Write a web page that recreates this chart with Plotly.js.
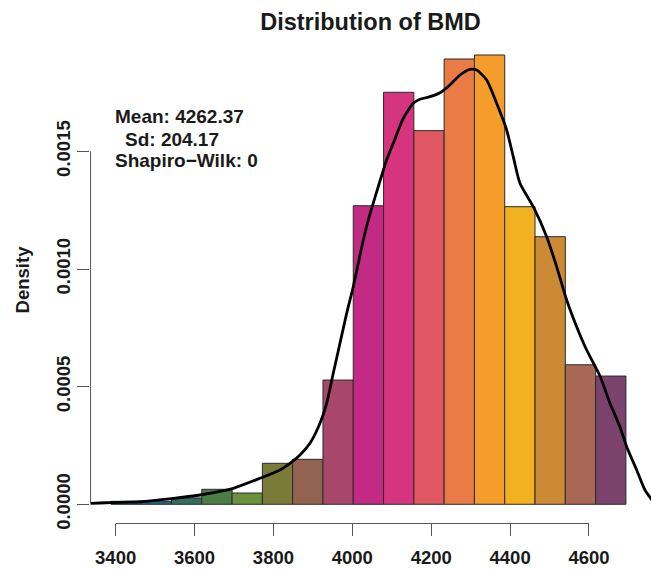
<!DOCTYPE html>
<html>
<head>
<meta charset="utf-8">
<script src="https://cdn.plot.ly/plotly-3.0.1.min.js"></script>
<style>html,body{margin:0;padding:0;background:#fff}#chart{width:651px;height:569px}</style>
</head>
<body>
<div id="chart"></div>
<script>
// Histogram bin edges (BMD) and densities
var binStart = 3388;
var binWidth = 76.8;
var densities = [0.0000127, 0.0000127, 0.000027, 0.0000637, 0.000048, 0.0001742, 0.0001912, 0.000528,
                 0.001269, 0.001751, 0.001588, 0.0018925, 0.0019095, 0.0012648, 0.0011373, 0.000593, 0.000545];
var barColors = ['#22507a', '#27617d', '#326d5f', '#4b7d45', '#6a913e', '#7b7b38', '#936352', '#a9476a',
                 '#c22a84', '#d7347f', '#e15763', '#eb7b46', '#f59d2b', '#f1b120', '#cd8a35', '#a86855', '#7b426d'];

// Kernel density curve
var kdeX = [3336.8, 3360.6, 3388.2, 3461.8, 3542.1, 3613.8, 3698.3, 3765.9, 3816.6, 3841.9, 3867.3, 3892.6,
            3918.0, 3935.0, 3951.7, 3968.7, 3985.7, 4002.4, 4015.1, 4027.8, 4040.4, 4087.1, 4103.8, 4129.2,
            4154.5, 4171.5, 4196.8, 4222.2, 4247.5, 4272.9, 4298.2, 4315.2, 4340.6, 4365.9, 4391.3, 4408.0,
            4425.0, 4458.7, 4492.7, 4518.0, 4543.4, 4568.7, 4594.1, 4627.8, 4653.2, 4678.5, 4695.5, 4720.9,
            4741.9, 4760.0];
var kdeY = [0.0000040, 0.0000055, 0.0000075, 0.0000110, 0.0000240, 0.0000395, 0.000068, 0.0001105, 0.0001458,
            0.0001742, 0.0002095, 0.0002592, 0.0003442, 0.0004292, 0.0005567, 0.0006842, 0.0008117, 0.0009248,
            0.0010242, 0.0011232, 0.0012082, 0.0014633, 0.0015342, 0.0016405, 0.0017042, 0.0017212, 0.0017323,
            0.0017492, 0.001782, 0.0018245, 0.0018487, 0.0018457, 0.0018032, 0.0017042, 0.0015907, 0.0014773,
            0.0013642, 0.0012648, 0.0011373, 0.0010098, 0.0008683, 0.0007548, 0.0006558, 0.0005453, 0.0004292,
            0.0003298, 0.0002448, 0.0001458, 0.0000608, 0.000018];

var xTicks = [3400, 3600, 3800, 4000, 4200, 4400, 4600];
var yTicks = [0, 0.0005, 0.0010, 0.0015];
var yTickText = ['0.0000', '0.0005', '0.0010', '0.0015'];

var statLines = ['Mean: 4262.37', 'Sd: 204.17', 'Shapiro\u2212Wilk: 0'];

var mids = densities.map(function (d, i) { return binStart + binWidth * (i + 0.5); });

var FONT = 'Liberation Sans, Arial, Helvetica, sans-serif';
var TXT = '#1a1a1a';
var AX = '#555555';

var traces = [
  {
    type: 'bar', x: mids, y: densities, width: binWidth,
    marker: {color: barColors, line: {color: '#2b2b2b', width: 1}},
    hoverinfo: 'skip', showlegend: false
  },
  {
    type: 'scatter', mode: 'lines', x: kdeX, y: kdeY,
    line: {color: '#000000', width: 2.8, shape: 'spline', smoothing: 0.6},
    hoverinfo: 'skip', showlegend: false
  }
];

var layout = {
  width: 651, height: 569,
  margin: {l: 90, r: 0, t: 37, b: 46, pad: 0},
  paper_bgcolor: '#ffffff', plot_bgcolor: '#ffffff',
  bargap: 0,
  title: {
    text: 'Distribution of BMD',
    font: {family: FONT, size: 23.5, color: TXT, weight: 'bold'},
    x: 0.5, xref: 'paper', xanchor: 'center',
    y: 1 - 22 / 569, yref: 'container', yanchor: 'middle'
  },
  xaxis: {
    range: [3335, 4757.2], showgrid: false, zeroline: false, showline: false,
    tickmode: 'array', tickvals: xTicks, ticktext: xTicks.map(String),
    ticks: 'outside', ticklen: 12, tickwidth: 1, tickcolor: AX, ticklabelstandoff: 6,
    tickfont: {family: FONT, size: 18.5, color: TXT, weight: 'bold'},
    fixedrange: true
  },
  yaxis: {
    range: [-0.0000795, 0.001986], showgrid: false, zeroline: false, showline: false,
    tickmode: 'array', tickvals: yTicks, ticktext: yTickText, tickangle: -90,
    ticks: 'outside', ticklen: 12, tickwidth: 1, tickcolor: AX,
    tickfont: {family: FONT, size: 18.5, color: TXT, weight: 'bold'},
    title: {text: 'Density', font: {family: FONT, size: 18.5, color: TXT, weight: 'bold'}, standoff: 18},
    fixedrange: true
  },
  shapes: [
    {type: 'line', xref: 'x', yref: 'paper', x0: xTicks[0], x1: xTicks[xTicks.length - 1], y0: -0.001, y1: -0.001,
     line: {color: AX, width: 1}, layer: 'above'},
    {type: 'line', xref: 'paper', yref: 'y', x0: 0.001, x1: 0.001, y0: yTicks[0], y1: yTicks[yTicks.length - 1],
     line: {color: AX, width: 1}, layer: 'above'}
  ],
  annotations: [
    {text: statLines[0], xref: 'x', yref: 'y', x: 3392.5, y: 0.001647, xanchor: 'left', yanchor: 'middle',
     showarrow: false, font: {family: FONT, size: 19, color: TXT, weight: 'bold'}},
    {text: statLines[1], xref: 'x', yref: 'y', x: 3417.8, y: 0.001551, xanchor: 'left', yanchor: 'middle',
     showarrow: false, font: {family: FONT, size: 19, color: TXT, weight: 'bold'}},
    {text: statLines[2], xref: 'x', yref: 'y', x: 3392.5, y: 0.001463, xanchor: 'left', yanchor: 'middle',
     showarrow: false, font: {family: FONT, size: 19, color: TXT, weight: 'bold'}}
  ]
};

Plotly.newPlot('chart', traces, layout, {displayModeBar: false, staticPlot: true});
</script>
</body>
</html>
